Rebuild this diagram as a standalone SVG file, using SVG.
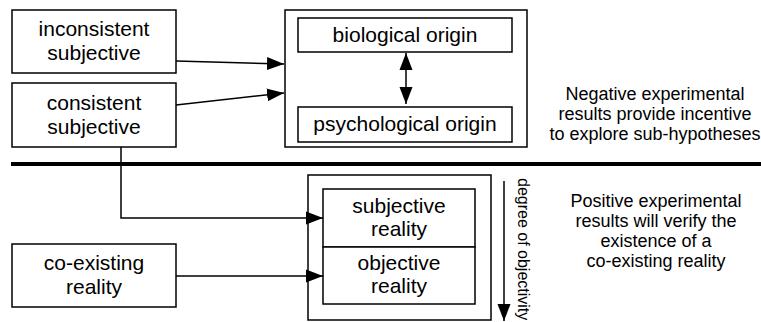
<svg xmlns="http://www.w3.org/2000/svg" width="761" height="322" viewBox="0 0 761 322">
<defs>
<style>
rect{fill:#fff;stroke:#000;stroke-width:1.5}
.t{font-family:"Liberation Sans",Arial,sans-serif;font-size:21px;fill:#000;text-anchor:middle}
.n{font-family:"Liberation Sans",Arial,sans-serif;font-size:18px;fill:#000;text-anchor:middle}
.c{fill:none;stroke:#000;stroke-width:1.5}
</style>
<marker id="ah" markerUnits="userSpaceOnUse" markerWidth="18" markerHeight="14" refX="17" refY="7" orient="auto-start-reverse">
<path d="M0,0.5 L17,7 L0,13.5 z" fill="#000"/>
</marker>
</defs>
<g id="inconsistent">
<rect x="12" y="10" width="164" height="63"/>
<text class="t" x="94" y="36">inconsistent</text>
<text class="t" x="94" y="60">subjective</text>
</g>
<g id="consistent">
<rect x="12" y="83" width="164" height="64"/>
<text class="t" x="94" y="110">consistent</text>
<text class="t" x="94" y="134">subjective</text>
</g>
<g id="origin">
<rect x="285" y="10" width="242" height="137"/>
</g>
<g id="biological">
<rect x="298" y="18" width="214" height="34"/>
<text class="t" x="405" y="42">biological origin</text>
</g>
<g id="psychological">
<rect x="298" y="107" width="214" height="35"/>
<text class="t" x="405" y="131">psychological origin</text>
</g>
<g id="coexisting">
<rect x="12" y="244" width="164" height="63"/>
<text class="t" x="94" y="270">co-existing</text>
<text class="t" x="94" y="294">reality</text>
</g>
<g id="reality">
<rect x="308" y="175" width="183" height="145"/>
</g>
<g id="subjective-reality">
<rect x="323" y="189" width="152" height="58"/>
<text class="t" x="399" y="213">subjective</text>
<text class="t" x="399" y="236">reality</text>
</g>
<g id="objective-reality">
<rect x="323" y="247" width="152" height="57"/>
<text class="t" x="399" y="270">objective</text>
<text class="t" x="399" y="293">reality</text>
</g>
<g id="notes">
<text class="n" x="655" y="100">Negative experimental</text>
<text class="n" x="655" y="120">results provide incentive</text>
<text class="n" x="655" y="140">to explore sub-hypotheses</text>
<text class="n" x="656" y="207">Positive experimental</text>
<text class="n" x="656" y="227">results will verify the</text>
<text class="n" x="656" y="247">existence of a</text>
<text class="n" x="656" y="267">co-existing reality</text>
<text font-family="Liberation Sans, Arial, sans-serif" font-size="16" transform="translate(518,178) rotate(90)">degree of objectivity</text>
</g>
<g id="connectors">
<line x1="11" y1="164" x2="761" y2="164" stroke="#000" stroke-width="4"/>
<path class="c" d="M176,61 L284,64" marker-end="url(#ah)"/>
<path class="c" d="M176,105 L284,93" marker-end="url(#ah)"/>
<path class="c" d="M406,53 L406,104" marker-start="url(#ah)" marker-end="url(#ah)"/>
<path class="c" d="M121,147 L121,218 L323,218" marker-end="url(#ah)"/>
<path class="c" d="M176,276 L323,276" marker-end="url(#ah)"/>
<path class="c" d="M504,181 L504,321" marker-end="url(#ah)"/>
</g>
</svg>
